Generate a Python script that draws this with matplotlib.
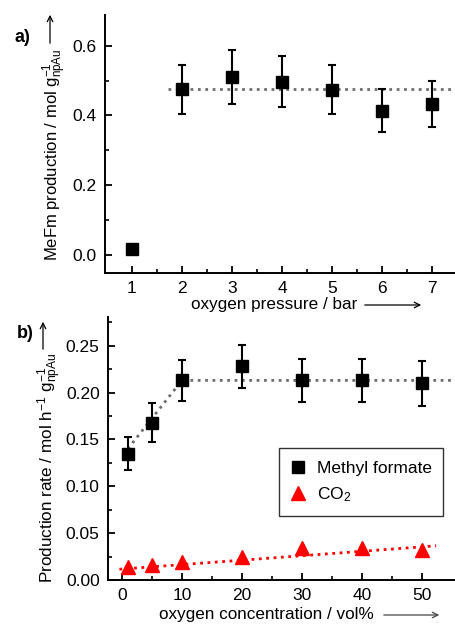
import matplotlib
matplotlib.use("Agg")
import matplotlib.pyplot as plt
from matplotlib.lines import Line2D
import numpy as np

plt.rcParams['font.family'] = ['Liberation Sans', 'DejaVu Sans']
plt.rcParams['mathtext.fontset'] = 'custom'
plt.rcParams['mathtext.rm'] = 'Liberation Sans'
plt.rcParams['mathtext.it'] = 'Liberation Sans:italic'
plt.rcParams['mathtext.bf'] = 'Liberation Sans:bold'

# panel a data
pressure = [1, 2, 3, 4, 5, 6, 7]
mefm = [0.017, 0.475, 0.511, 0.496, 0.474, 0.413, 0.433]
mefm_err = [0, 0.070, 0.077, 0.073, 0.070, 0.062, 0.066]
plateau_a = 0.475

# panel b data
conc = [1, 5, 10, 20, 30, 40, 50]
mf_rate = [0.135, 0.168, 0.213, 0.228, 0.213, 0.213, 0.210]
mf_err = [0.018, 0.021, 0.022, 0.023, 0.023, 0.023, 0.024]
co2_rate = [0.0142, 0.016, 0.0187, 0.0242, 0.0345, 0.0338, 0.032]
mf_trend_x = [1, 10, 55.6]
mf_trend_y = [0.14, 0.213, 0.213]
co2_trend_x = [-0.4, 52.3]
co2_trend_y = [0.0115, 0.0365]

W, H = 456, 624
fig = plt.figure(figsize=(W / 100, H / 100), dpi=100)

def fx(px):
    return px / W

def fy(py):
    return 1 - py / H

def style_axes(ax):
    for s in ['top', 'right']:
        ax.spines[s].set_visible(False)
    for s in ['left', 'bottom']:
        ax.spines[s].set_linewidth(1.4)
    ax.tick_params(which='major', direction='in', length=5, width=1.3, labelsize=12.5, pad=6)
    ax.tick_params(which='minor', direction='in', length=3, width=1.2)

# ---- panel a
ax1 = fig.add_axes([fx(105), fy(273), fx(456) - fx(105), fy(15) - fy(273)])
style_axes(ax1)
ax1.plot([1.73, 7.5], [plateau_a, plateau_a], ls=':', color='#6e6e6e', lw=2)
ax1.errorbar(pressure, mefm, yerr=mefm_err, fmt='s', color='black', ms=9,
             capsize=3, elinewidth=1.5, capthick=1.5, zorder=3)
ax1.set_xlim(0.47, 7.47)
ax1.set_ylim(-0.052, 0.688)
ax1.set_xticks(pressure)
ax1.set_xticks(np.arange(1.5, 7.5, 1), minor=True)
ax1.set_yticks([0.0, 0.2, 0.4, 0.6])
ax1.set_yticks([0.1, 0.3, 0.5], minor=True)
ax1.set_yticklabels(['0.0', '0.2', '0.4', '0.6'])

fig.text(fx(55), fy(155), r"MeFm production / mol g$^{-1}_{\mathrm{npAu}}$",
         rotation=90, ha='center', va='center', fontsize=12)
fig.text(fx(274), fy(305), "oxygen pressure / bar", ha='center', va='center', fontsize=12.3)
fig.text(fx(15), fy(37), "a)", ha='left', va='center', fontsize=13, fontweight='bold')
ax1.annotate('', xy=(fx(50), fy(12)), xytext=(fx(50), fy(46)), xycoords='figure fraction',
             arrowprops=dict(arrowstyle='->', lw=0.9, color='black'))
ax1.annotate('', xy=(fx(424), fy(305)), xytext=(fx(362), fy(305)), xycoords='figure fraction',
             arrowprops=dict(arrowstyle='->', lw=0.9, color='black'))

# ---- panel b
ax2 = fig.add_axes([fx(108), fy(580), fx(456) - fx(108), fy(316.7) - fy(580)])
style_axes(ax2)
ax2.plot(mf_trend_x, mf_trend_y, ls=':', color='#6e6e6e', lw=2)
ax2.plot(co2_trend_x, co2_trend_y, ls=':', color='red', lw=2)
ax2.errorbar(conc, mf_rate, yerr=mf_err, fmt='s', color='black', ms=9,
             capsize=3, elinewidth=1.5, capthick=1.5, zorder=3)
ax2.plot(conc, co2_rate, '^', color='red', ms=10, ls='none', zorder=3)
ax2.set_xlim(-2.3, 55.6)
ax2.set_ylim(0, 0.281)
ax2.set_xticks([0, 10, 20, 30, 40, 50])
ax2.set_xticks([5, 15, 25, 35, 45], minor=True)
ax2.set_yticks([0.0, 0.05, 0.10, 0.15, 0.20, 0.25])
ax2.set_yticks(np.arange(0.025, 0.28, 0.05), minor=True)
ax2.set_yticklabels(['0.00', '0.05', '0.10', '0.15', '0.20', '0.25'])

handles = [Line2D([], [], marker='s', color='black', ls='none', ms=9),
           Line2D([], [], marker='^', color='red', ls='none', ms=10)]
leg = ax2.legend(handles, ['Methyl formate', 'CO$_2$'], loc='lower left',
                 bbox_to_anchor=(0.49, 0.243, 0.473, 0.278),
                 mode='expand', fontsize=12.5, frameon=True, fancybox=False,
                 edgecolor='black', handlelength=0.9, handletextpad=0.63,
                 borderaxespad=0, borderpad=0.7, labelspacing=0.55)
leg.get_frame().set_linewidth(1.0)

fig.text(fx(50), fy(468), r"Production rate / mol h$^{-1}$ g$^{-1}_{\mathrm{npAu}}$",
         rotation=90, ha='center', va='center', fontsize=12.3)
fig.text(fx(266), fy(615), "oxygen concentration / vol%", ha='center', va='center', fontsize=12.3)
fig.text(fx(17), fy(333), "b)", ha='left', va='center', fontsize=13, fontweight='bold')
ax2.annotate('', xy=(fx(43), fy(319)), xytext=(fx(43), fy(352)), xycoords='figure fraction',
             arrowprops=dict(arrowstyle='->', lw=0.9, color='black'))
ax2.annotate('', xy=(fx(442), fy(615)), xytext=(fx(381), fy(615)), xycoords='figure fraction',
             arrowprops=dict(arrowstyle='->', lw=0.9, color='#444444'))

fig.savefig("out.png", dpi=100)
